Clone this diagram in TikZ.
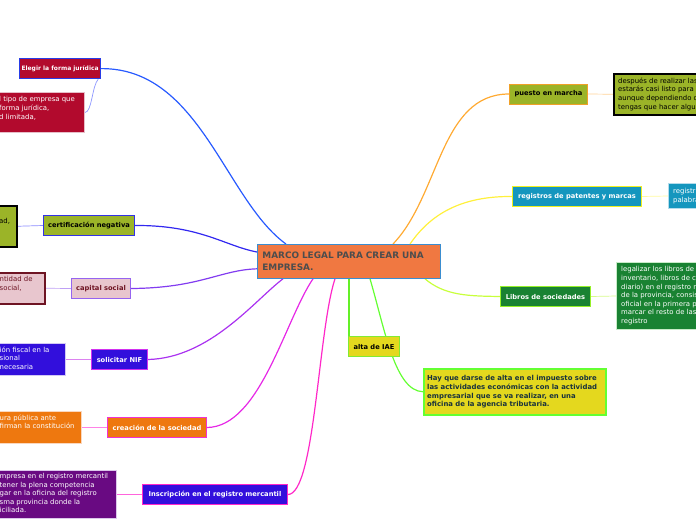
\documentclass[tikz,border=0pt]{standalone}
\usepackage{fontspec}
\setmainfont{DejaVu Sans}
\pgfdeclarelayer{bg}
\pgfsetlayers{bg,main}
\definecolor{corange}{RGB}{240,120,65}
\definecolor{cbd}{RGB}{58,141,208}
\definecolor{cgray}{RGB}{77,77,77}
\definecolor{crim}{RGB}{178,10,45}
\definecolor{olive}{RGB}{155,180,40}
\definecolor{pinkf}{RGB}{232,198,206}
\definecolor{maroon}{RGB}{110,20,35}
\definecolor{bviolet}{RGB}{50,15,220}
\definecolor{orng}{RGB}{238,120,15}
\definecolor{purp}{RGB}{105,10,130}
\definecolor{teal}{RGB}{20,150,190}
\definecolor{grn}{RGB}{25,130,50}
\definecolor{yel}{RGB}{228,216,30}
\definecolor{navy}{RGB}{25,50,60}
% connector colours
\definecolor{k1}{RGB}{40,90,255}
\definecolor{k2}{RGB}{50,40,240}
\definecolor{k3}{RGB}{130,60,240}
\definecolor{k4}{RGB}{170,50,240}
\definecolor{k5}{RGB}{230,40,230}
\definecolor{k6}{RGB}{255,40,200}
\definecolor{k7}{RGB}{255,170,50}
\definecolor{k8}{RGB}{255,240,60}
\definecolor{k9}{RGB}{200,255,60}
\definecolor{k10}{RGB}{100,240,40}
\definecolor{k11}{RGB}{100,255,50}
\definecolor{s1}{RGB}{140,150,255}
\definecolor{s2}{RGB}{140,140,255}
\definecolor{s3}{RGB}{190,160,245}
\definecolor{s4}{RGB}{220,130,240}
\definecolor{s5}{RGB}{255,130,230}
\definecolor{s6}{RGB}{255,100,220}
\definecolor{s7}{RGB}{255,210,150}
\definecolor{s8}{RGB}{255,250,160}
\definecolor{s9}{RGB}{215,250,140}
% borders
\definecolor{b1}{RGB}{40,60,230}
\definecolor{b2}{RGB}{50,50,230}
\definecolor{b3}{RGB}{150,100,240}
\definecolor{b4}{RGB}{210,50,240}
\definecolor{b5}{RGB}{240,50,210}
\definecolor{b6}{RGB}{255,40,200}
\definecolor{b7}{RGB}{240,160,40}
\definecolor{b8}{RGB}{240,240,30}
\definecolor{b9}{RGB}{150,240,40}
\definecolor{b10}{RGB}{130,235,50}
\definecolor{lpink}{RGB}{230,190,200}
\definecolor{llav}{RGB}{210,200,245}
\definecolor{lpeach}{RGB}{250,215,190}
\definecolor{llav2}{RGB}{220,200,235}
\definecolor{lblue}{RGB}{180,220,235}
\definecolor{lgreen}{RGB}{200,235,200}
\tikzset{
  lbl/.style={rectangle, inner sep=0pt, anchor=north west, line width=1.2pt,
    font=\bfseries\fontsize{6.7}{8}\selectfont},
  box/.style={rectangle, inner sep=0pt, anchor=north west, line width=1pt},
  txt/.style={inner sep=0pt, anchor=north west, align=left,
    font=\fontsize{6.9}{8.6}\selectfont},
  btxt/.style={txt, font=\bfseries\fontsize{6.9}{8.6}\selectfont},
  conn/.style={line width=1.2pt},
  thinc/.style={line width=0.7pt}
}
\begin{document}
\begin{tikzpicture}[x=1pt,y=-1pt]
\useasboundingbox (0,0) rectangle (696,520);
\clip (0,0) rectangle (696,520);

% central
\node[rectangle, anchor=north west, fill=corange, draw=cbd, line width=0.8pt,
  minimum width=183, minimum height=34, text width=173, inner xsep=5pt, inner ysep=0pt,
  align=left, text=cgray, font=\bfseries\fontsize{8.9}{11.6}\selectfont] (c) at (257,244)
  {MARCO LEGAL PARA CREAR UNA\\EMPRESA.};

% left branch labels
\node[lbl, fill=crim, draw=b1, text=white, minimum width=81, minimum height=20,
  font=\bfseries\fontsize{6.0}{8}\selectfont] (eleg) at (19,58) {Elegir la forma jurídica};
\node[lbl, fill=olive, draw=b2, line width=1pt, text=black, minimum width=91, minimum height=20] (cert) at (43,215) {certificación negativa};
\node[lbl, fill=pinkf, draw=b3, line width=1pt, text=maroon, minimum width=59, minimum height=20] (cap) at (71,278) {capital social};
\node[lbl, fill=bviolet, draw=b4, line width=1pt, text=white, minimum width=56, minimum height=20] (nif) at (91,349) {solicitar NIF};
\node[lbl, fill=orng, draw=b5, line width=1pt, text=white, minimum width=99, minimum height=20] (crea) at (107,417) {creación de la sociedad};
\node[lbl, fill=bviolet, draw=b6, line width=1pt, text=white, minimum width=145, minimum height=20] (insc) at (142,484) {Inscripción en el registro mercantil};

% left boxes
\node[box, fill=crim, draw=lpink, minimum width=89, minimum height=40] (lb1) at (-5,92) {};
\node[txt, text=white] (lt1) at (-1,96.5) {l tipo de empresa que\\forma jurídica,\\d limitada,};
\node[box, fill=olive, draw=black, line width=1.5pt, minimum width=21, minimum height=41] (lb2) at (-5,205) {};
\node[txt, text=black] (lt2) at (-1,218.5) {ad,};
\node[box, fill=pinkf, draw=maroon, line width=1.5pt, minimum width=49, minimum height=31] (lb3) at (-5,272) {};
\node[txt, text=maroon] (lt3) at (-0.5,276) {ntidad de\\social,};
\node[box, fill=bviolet, draw=llav, minimum width=70, minimum height=32] (lb4) at (-5,343) {};
\node[txt, text=white] (lt4) at (-0.5,346.5) {ión fiscal en la\\sional\\necesaria};
\node[box, fill=orng, draw=lpeach, minimum width=86, minimum height=32] (lb5) at (-5,411) {};
\node[txt, text=white] (lt5) at (-0.5,414.5) {ura pública ante\\firman la constitución};
\node[box, fill=purp, draw=llav2, minimum width=121, minimum height=48] (lb6) at (-5,470) {};
\node[txt, text=white] (lt6) at (-0.5,473) {mpresa en el registro mercantil\\tener la plena competencia\\gar en la oficina del registro\\sma provincia donde la\\iciliada.};

% right branch labels
\node[lbl, fill=olive, draw=b7, line width=1pt, text=black, minimum width=78, minimum height=20] (pues) at (509,83.5) {puesto en marcha};
\node[lbl, fill=teal, draw=b8, line width=1pt, text=white, minimum width=129, minimum height=20] (pat) at (512,186) {registros de patentes y marcas};
\node[lbl, fill=grn, draw=b9, line width=1pt, text=white, minimum width=90, minimum height=20] (lib) at (500,286) {Libros de sociedades};
\node[lbl, fill=yel, draw=b10, line width=1pt, text=black, minimum width=51, minimum height=20] (alta) at (348,336) {alta de IAE};

% right boxes
\node[box, fill=olive, draw=black, line width=1.5pt, minimum width=100, minimum height=41] (rb1) at (613,73) {};
\node[txt, text=black] (rt1) at (618,77.5) {después de realizar las\\estarás casi listo para\\aunque dependiendo d\\tengas que hacer algu};
\node[box, fill=teal, draw=lblue, minimum width=50, minimum height=25] (rb2) at (668,183) {};
\node[txt, text=white] (rt2) at (673,188) {registr\\palabra};
\node[box, fill=grn, draw=lgreen, minimum width=100, minimum height=67] (rb3) at (616,262) {};
\node[txt, text=white] (rt3) at (621,266.5) {legalizar los libros de\\inventario, libros de c\\diario) en el registro m\\de la provincia, consis\\oficial en la primera p\\marcar el resto de las\\registro};
\node[box, fill=yel, draw=k11, line width=1.5pt, minimum width=182, minimum height=46] (rb4) at (423,368) {};
\node[btxt, text=navy] (rt4) at (427,375.5) {Hay que darse de alta en el impuesto sobre\\las actividades económicas con la actividad\\empresarial que se va realizar, en una\\oficina de la agencia tributaria.};

\begin{pgfonlayer}{bg}
% main connectors
\draw[conn, k1] (eleg.east) .. controls (200,68) and (225,200) .. ([xshift=29pt]c.north west);
\draw[conn, k2] (cert.east) .. controls (200,225) and (225,246) .. ([yshift=-8pt]c.north west);
\draw[conn, k3] (cap.east) .. controls (200,288) and (220,270) .. ([yshift=10pt]c.south west);
\draw[conn, k4] (nif.east) .. controls (210,358) and (255,300) .. ([xshift=26pt]c.south west);
\draw[conn, k5] (crea.east) .. controls (260,427) and (285,320) .. ([xshift=56pt]c.south west);
\draw[conn, k6] (insc.east) .. controls (315,494) and (318,330) .. ([xshift=78pt]c.south west);
\draw[conn, k7] ([xshift=136pt]c.north west) .. controls (440,195) and (440,94) .. (pues.west);
\draw[conn, k8] ([xshift=153pt]c.north west) .. controls (430,215) and (460,196) .. (pat.west);
\draw[conn, k9] ([xshift=168pt]c.south west) .. controls (445,296) and (470,296) .. (lib.west);
\draw[conn, k10] ([xshift=1pt]alta.north west) -- ([xshift=1pt]alta.north west |- c.south);
\draw[conn, k11] ([xshift=113pt]c.south west) .. controls (385,330) and (395,391) .. (rb4.west);
% secondary connectors
\draw[thinc, s1] (lb1.east) .. controls (92,112) and (92,86) .. ([xshift=-3pt]eleg.south east);
\draw[thinc, s2] (lb2.east) -- (cert.west);
\draw[thinc, s3] (lb3.east) -- (cap.west);
\draw[thinc, s4] (lb4.east) -- (nif.west);
\draw[thinc, s5] (lb5.east) -- (crea.west);
\draw[thinc, s6] (lb6.east) -- (insc.west);
\draw[thinc, s7] (pues.east) -- (rb1.west);
\draw[thinc, s8] (pat.east) -- (rb2.west);
\draw[thinc, s9] (lib.east) -- (rb3.west);
\end{pgfonlayer}
\end{tikzpicture}
\end{document}
